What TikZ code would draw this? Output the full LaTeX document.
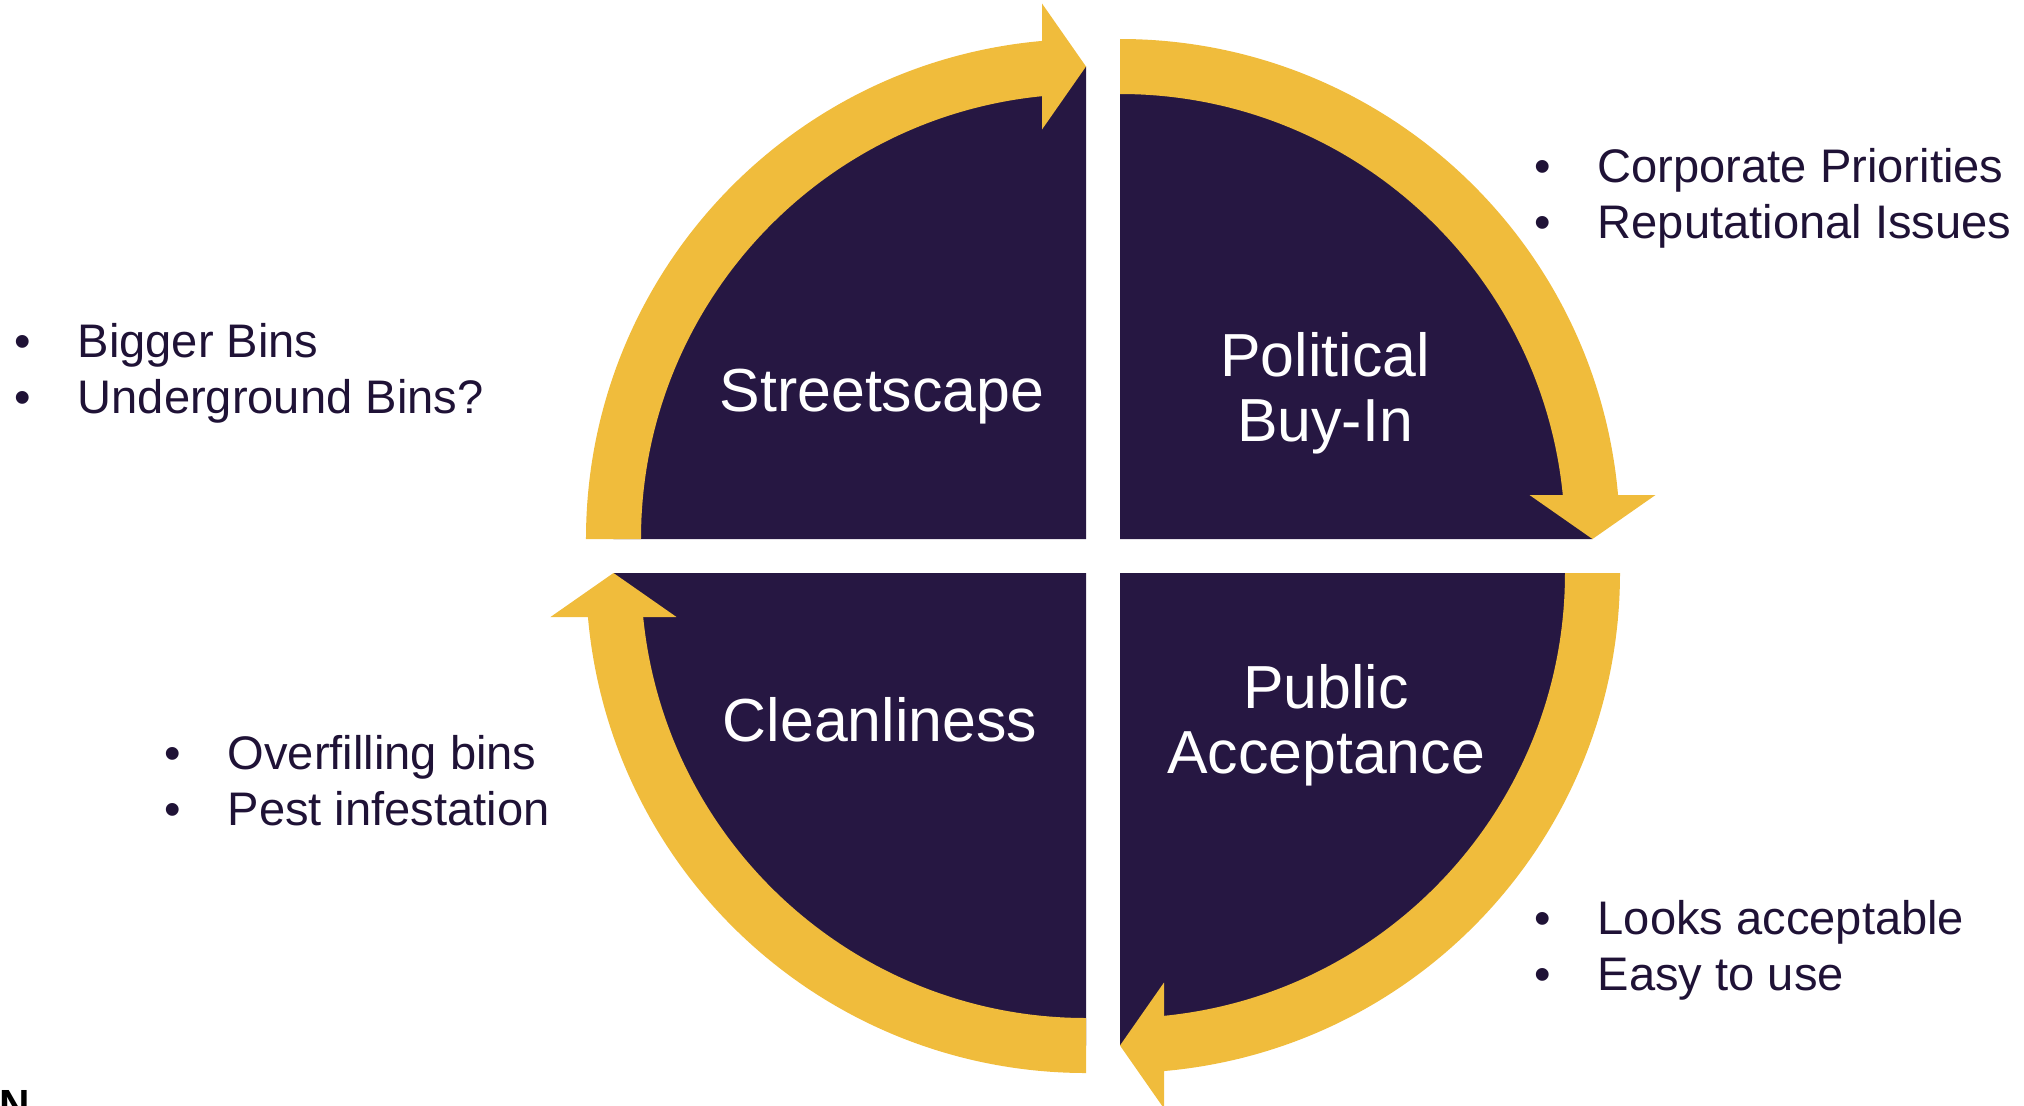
\documentclass[tikz,border=0pt]{standalone}
\usepackage{fontspec}
\setmainfont{Liberation Sans}
\usetikzlibrary{calc}

\definecolor{plum}{HTML}{261742}
\definecolor{mustard}{HTML}{F0BC3C}
\definecolor{inkblue}{HTML}{1F1236}

\newcommand{\bul}{\makebox[0.63cm][l]{\textbullet}}

\tikzset{
  quarter/.style={fill=plum},
  band/.style={fill=mustard},
  quadtext/.style={text=white, font=\fontsize{17.3}{18.4}\selectfont, align=center, inner sep=0pt, anchor=base},
  bulletlist/.style={text=inkblue, font=\fontsize{13.4}{15.9}\selectfont, align=left, inner sep=0pt, anchor=base west},
}

\begin{document}
\begin{tikzpicture}
\useasboundingbox (-11.03,-5.49) rectangle (9.21,5.56);

% four quarters, each with a clockwise arrow round its rim
\foreach \cx/\cy/\a in {-0.17/0.17/90, 0.17/0.17/0, 0.17/-0.17/-90, -0.17/-0.17/180}{
  \begin{scope}[shift={(\cx,\cy)}]
    \fill[quarter] (0,0) -- (\a:4.725) arc[start angle=\a, end angle=\a+90, radius=4.725] -- cycle;
    % arrow shaft
    \fill[band] (\a+90:5) arc[start angle=\a+90, end angle=\a+5, radius=5]
      -- (\a+5:4.45) arc[start angle=\a+5, end angle=\a+90, radius=4.45] -- cycle;
    % arrow head
    \fill[band] (\a:4.725) -- ($(\a:5.355)+(\a+90:0.44)$) -- ($(\a:4.095)+(\a+90:0.44)$) -- cycle;
  \end{scope}
}

% quarter titles (base = last line)
\node[quadtext] (streetscape) at (-2.21,1.45) {Streetscape};
\node[quadtext] (political) at (2.22,1.15) {Political\\Buy-In};
\node[quadtext] (public) at (2.23,-2.17) {Public\\Acceptance};
\node[quadtext] (cleanliness) at (-2.23,-1.85) {Cleanliness};

% notes beside each quarter
\node[bulletlist] (corporate) at (4.31,3.18) {\bul Corporate Priorities\\\bul Reputational Issues};
\node[bulletlist] (bins) at (-10.89,1.43) {\bul Bigger Bins\\\bul Underground Bins?};
\node[bulletlist] (overfill) at (-9.39,-2.69) {\bul Overfilling bins\\\bul Pest infestation};
\node[bulletlist] (looks) at (4.31,-4.34) {\bul Looks acceptable\\\bul Easy to use};

\node[font=\bfseries\fontsize{12}{12}\selectfont, inner sep=0pt, anchor=north west] (edge) at (-11.04,-5.34) {N};
\end{tikzpicture}
\end{document}
